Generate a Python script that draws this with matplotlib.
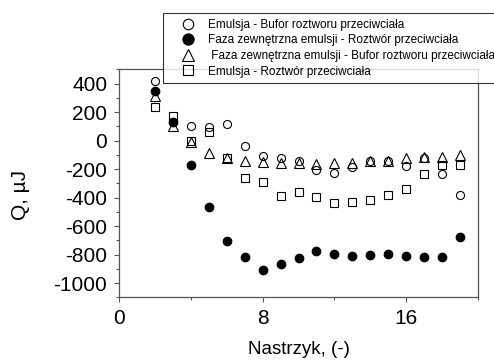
import matplotlib
matplotlib.use("Agg")
import matplotlib.pyplot as plt
from matplotlib.ticker import MultipleLocator

plt.rcParams['font.family'] = ['Liberation Sans', 'DejaVu Sans']
plt.rcParams['axes.unicode_minus'] = False

# numer nastrzyku
nastrzyk = list(range(2, 20))

# Q, uJ dla kazdej serii
emulsja_bufor = [421, 130, 100, 95, 117, -35, -105, -121, -140, -206, -229, -187, -140, -145, -182, -125, -234, -379]
faza_roztwor = [350, 133, -171, -468, -702, -819, -905, -866, -823, -772, -795, -807, -800, -795, -807, -814, -814, -678]
faza_bufor = [316, 100, -10, -85, -121, -140, -152, -159, -159, -164, -159, -156, -140, -140, -121, -117, -112, -98]
emulsja_roztwor = [234, 175, 0, 58, -121, -264, -292, -386, -363, -398, -440, -433, -414, -379, -339, -236, -175, -175]

labels = ['Emulsja - Bufor roztworu przeciwciała',
          'Faza zewnętrzna emulsji - Roztwór przeciwciała',
          ' Faza zewnętrzna emulsji - Bufor roztworu przeciwciała',
          'Emulsja - Roztwór przeciwciała']

fig = plt.figure(figsize=(4.94, 3.61), dpi=100)
ax = fig.add_axes([119/494, 1 - 297.3/361, (478 - 119)/494, (297.3 - 69.3)/361])

mew = 0.8
ax.plot(nastrzyk, emulsja_bufor, 'o', ms=5.8, mfc='white', mec='black', mew=mew, label=labels[0])
ax.plot(nastrzyk, faza_roztwor, 'o', ms=6.2, mfc='black', mec='black', mew=mew, label=labels[1])
ax.plot(nastrzyk, faza_bufor, '^', ms=7, mfc='none', mec='black', mew=mew, label=labels[2])
ax.plot(nastrzyk, emulsja_roztwor, 's', ms=5.3, mfc='none', mec='black', mew=mew, label=labels[3])

ax.set_xlim(0, 20)
ax.set_ylim(-1100, 500)
ax.xaxis.set_major_locator(MultipleLocator(8))
ax.xaxis.set_minor_locator(MultipleLocator(4))
ax.yaxis.set_minor_locator(MultipleLocator(100))
ax.set_yticks(range(-1000, 401, 200))

for s in ax.spines.values():
    s.set_color('#555555')
    s.set_linewidth(0.9)
ax.tick_params(which='both', direction='out', color='#555555', width=0.8, labelsize=15)
ax.tick_params(which='major', length=3.5, pad=5)
ax.tick_params(which='minor', length=2.5)

ax.set_xlabel('Nastrzyk, (-)', fontsize=13.5)
ax.xaxis.set_label_coords(0.5, -0.19)
ax.set_ylabel('Q, µJ', fontsize=15)
ax.yaxis.set_label_coords(-0.248, 0.45)

leg = fig.legend(loc='upper left', bbox_to_anchor=(163/494, 1 - 13/361),
                 fontsize=8.5, markerscale=1.3, numpoints=1, frameon=True,
                 fancybox=False, handlelength=3.3, handletextpad=0.05,
                 labelspacing=0.3, borderpad=0.5, borderaxespad=0)
leg.get_frame().set_edgecolor('black')
leg.get_frame().set_linewidth(0.8)

fig.savefig('out.png', dpi=100)
